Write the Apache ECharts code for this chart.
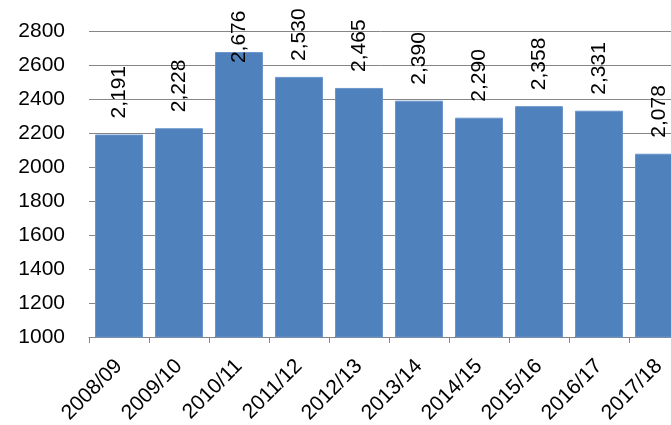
<!DOCTYPE html>
<html>
<head>
<meta charset="utf-8">
<script src="https://cdn.jsdelivr.net/npm/echarts@6/dist/echarts.min.js"></script>
<style>
  html, body { margin: 0; padding: 0; background: #fff; }
  #chart { width: 671px; height: 425px; }
</style>
</head>
<body>
<div id="chart"></div>
<script>
// Academic years and annual totals
const years = ['2008/09', '2009/10', '2010/11', '2011/12', '2012/13',
               '2013/14', '2014/15', '2015/16', '2016/17', '2017/18'];
const totals = [2191, 2228, 2676, 2530, 2465, 2390, 2290, 2358, 2331, 2078];

const FONT = 'Liberation Sans';
const peak = Math.max(...totals);

// The tallest bar's label is pulled down so it stays on the canvas
const barData = totals.map(v => v === peak
  ? { value: v, label: { distance: -11 } }
  : v);

const chart = echarts.init(document.getElementById('chart'), null, { renderer: 'canvas' });
chart.setOption({
  animation: false,
  backgroundColor: '#ffffff',
  grid: {
    left: 89, top: 31, width: 600, height: 306,
    containLabel: false, outerBoundsMode: 'none'
  },
  xAxis: {
    type: 'category',
    data: years,
    axisLine: { lineStyle: { color: '#868686', width: 1 } },
    axisTick: { show: true, length: 6, lineStyle: { color: '#868686' } },
    axisLabel: {
      rotate: 45, margin: 26, color: '#000',
      fontFamily: FONT, fontSize: 21, interval: 0
    }
  },
  yAxis: {
    type: 'value',
    min: 1000, max: 2800, interval: 200,
    axisLine: { show: false },
    axisTick: { show: false },
    splitLine: { lineStyle: { color: '#868686', width: 1 } },
    axisLabel: {
      color: '#000', fontFamily: FONT, fontSize: 21, margin: 24,
      formatter: v => String(v)
    }
  },
  series: [{
    type: 'bar',
    data: barData,
    barCategoryGap: '20%',
    itemStyle: { color: '#4F81BD', borderColor: '#6A95CB', borderWidth: 1 },
    label: {
      show: true,
      position: 'top',
      rotate: 90,
      align: 'left',
      verticalAlign: 'middle',
      distance: 16,
      color: '#000',
      fontFamily: FONT,
      fontSize: 21,
      formatter: p => p.value.toLocaleString('en-US')
    }
  }]
});
</script>
</body>
</html>
